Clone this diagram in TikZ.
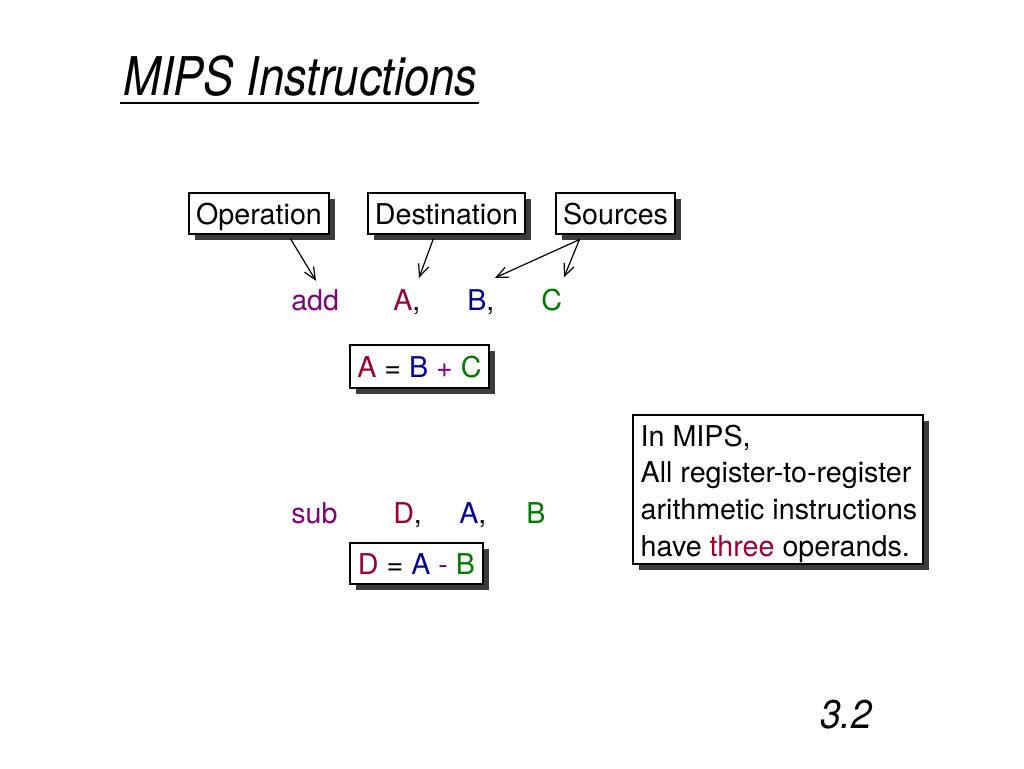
\documentclass[tikz,border=0pt]{standalone}
\usepackage{fontspec}
\setmainfont{TeX Gyre Heros}
\newfontfamily\titlefont[FakeStretch=0.85]{TeX Gyre Heros}
\newfontfamily\pagefont[FakeStretch=0.93]{TeX Gyre Heros}
\usetikzlibrary{calc,shadows,arrows.meta}
\definecolor{mpurple}{HTML}{800080}
\definecolor{mred}{HTML}{990033}
\definecolor{mblue}{HTML}{000099}
\definecolor{mgreen}{HTML}{007A00}
\definecolor{mshadow}{HTML}{3C3C3C}
\tikzset{
  body/.style={font=\fontsize{21.5pt}{25pt}\selectfont, inner sep=0pt},
  rowtext/.style={body, anchor=base west},
  shbox/.style={draw=black, line width=0.9pt, fill=white, inner sep=0pt,
    font=\fontsize{21.5pt}{25pt}\selectfont, text height=19pt, text depth=3pt,
    drop shadow={shadow xshift=4.5pt, shadow yshift=-4.5pt, fill=mshadow, opacity=1}},
  infobox/.style={draw=black, line width=0.9pt, fill=white, inner sep=0pt,
    drop shadow={shadow xshift=4.5pt, shadow yshift=-4.5pt, fill=mshadow, opacity=1}},
  arr/.style={-{Straight Barb[length=9pt,width=8pt,line width=0.9pt]}, line width=0.9pt}
}
\begin{document}
\begin{tikzpicture}[x=0.75pt,y=-0.75pt]
\useasboundingbox (0,0) rectangle (1024,768);
\fill[white] (0,0) rectangle (1024,768);

% title
\node[anchor=base west, inner sep=0pt, font=\titlefont\itshape\fontsize{40pt}{44pt}\selectfont] (title) at (123,95) {MIPS Instructions};
\draw[line width=1.5pt] ($(title.base west)+(-3,8)$) coordinate (ul1) -- ($(title.base east)+(1,8)$) coordinate (ul2);

% label boxes
\node[shbox, minimum width=105pt, minimum height=30.75pt] (op) at (259,213.5) {Operation};
\node[shbox, minimum width=117.75pt, minimum height=30.75pt] (dest) at (446.5,213.5) {Destination};
\node[shbox, minimum width=89.25pt, minimum height=30.75pt] (src) at (615.5,213.5) {Sources};

% add row
\node[rowtext, text=mpurple] (add) at (291,310) {add};
\node[rowtext] (ra) at (393,310) {\textcolor{mred}{A},};
\node[rowtext] (rb) at (467,310) {\textcolor{mblue}{B},};
\node[rowtext, text=mgreen] (rc) at (541,310) {C};

% arrows
\draw[arr] ($(op.south west)+(102,4)$) -- ($(add.north west)+(25,-8)$);
\draw[arr] ($(dest.south west)+(66,4)$) -- ($(ra.north west)+(26,-11)$);
\draw[arr] ($(src.south west)+(24,5)$) -- ($(rb.north west)+(28,-11)$);
\draw[arr] ($(src.south west)+(24,5)$) -- ($(rc.north west)+(23,-11)$);

% A = B + C
\node[shbox, minimum width=104.25pt, minimum height=32.25pt] (eq1) at (419.5,366.5)
  {\textcolor{mred}{A} = \textcolor{mblue}{B} \textcolor{mpurple}{+} \textcolor{mgreen}{C}};

% sub row
\node[rowtext, text=mpurple] (sub) at (291,523) {sub};
\node[rowtext] (sd) at (393,523) {\textcolor{mred}{D},};
\node[rowtext] (sa) at (459,523) {\textcolor{mblue}{A},};
\node[rowtext, text=mgreen] (sb) at (526,523) {B};

% D = A - B
\node[shbox, minimum width=99.75pt, minimum height=30.75pt] (eq2) at (416.5,563.5)
  {\textcolor{mred}{D} = \textcolor{mblue}{A} \textcolor{mpurple}{-} \textcolor{mgreen}{B}};

% info box
\node[infobox, minimum width=217.5pt, minimum height=111.75pt] (info) at (778,489.5) {};
\node[anchor=north west, inner sep=0pt, align=left, font=\fontsize{21.5pt}{27.5pt}\selectfont] (infotext) at ($(info.north west)+(8,10)$)
  {In MIPS,\\All register-to-register\\arithmetic instructions\\have \textcolor{mred}{three} operands.};

% page number
\node[anchor=base west, inner sep=0pt, font=\pagefont\itshape\fontsize{30pt}{34pt}\selectfont] (pnum) at (820,728) {3.2};
\end{tikzpicture}
\end{document}
